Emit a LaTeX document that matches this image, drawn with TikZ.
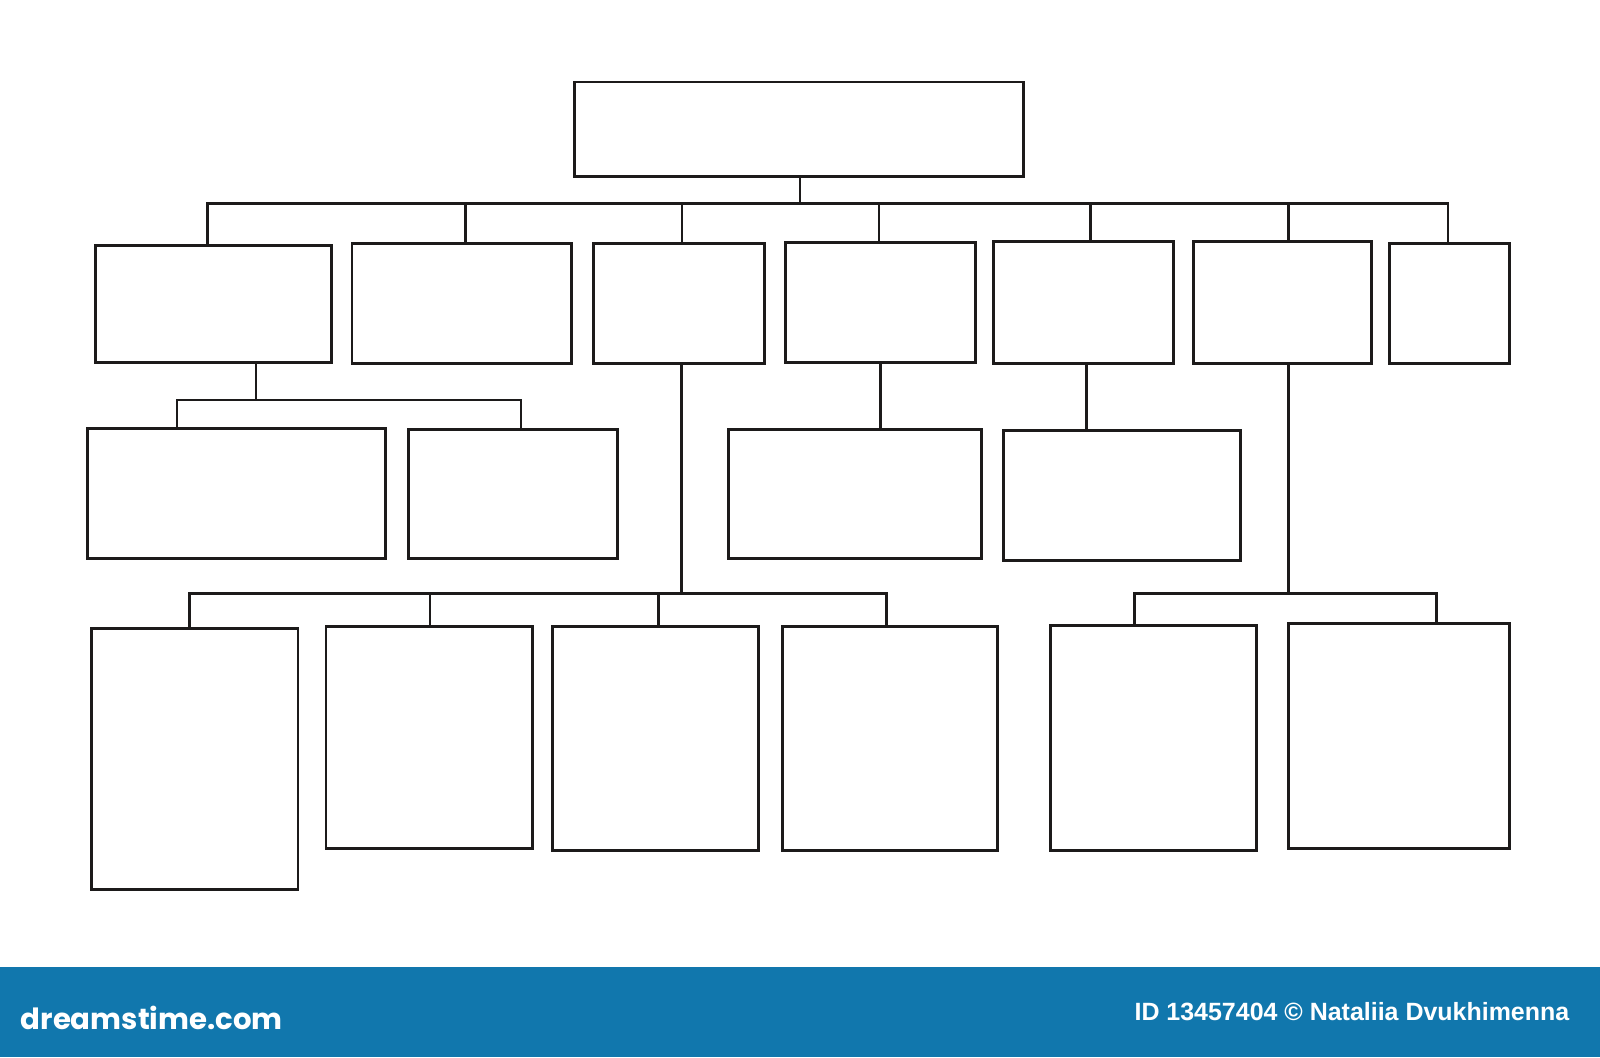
\documentclass[tikz,border=0pt]{standalone}
\usepackage{fontspec}
\usepackage{xcolor}
\usetikzlibrary{positioning}
\newfontfamily\logofont{Poppins}
\newfontfamily\creditfont{Liberation Sans}
\definecolor{footerblue}{RGB}{17,119,173}
\definecolor{inkline}{RGB}{28,26,26}

\begin{document}
\begin{tikzpicture}[y=-0.01cm,x=0.01cm,
	box/.style={draw=inkline, line width=0.85pt, inner sep=0pt, outer sep=0pt},
	link/.style={draw=inkline, line width=0.8pt}]
	\newcommand\OrgBox[5]{\node[box, minimum width={(#4-#2)*0.01cm}, minimum height={(#5-#3)*0.01cm}] (#1) at ({(#2+#4)/2},{(#3+#5)/2}) {};}

	\useasboundingbox (0,0) rectangle (1600,1057);

	% top
	\OrgBox{top}{574}{82}{1023.5}{176.7}

	% second row
	\OrgBox{b1}{95.9}{245.3}{331.6}{362}
	\OrgBox{b2}{352}{243.7}{571.4}{363.3}
	\OrgBox{b3}{593.4}{243}{764.3}{363.3}
	\OrgBox{b4}{785.7}{242}{975}{362.7}
	\OrgBox{b5}{993.9}{241.7}{1173}{363.3}
	\OrgBox{b6}{1193.4}{241.7}{1371.4}{363.3}
	\OrgBox{b7}{1389.3}{243.7}{1509.2}{363.3}

	% third row
	\OrgBox{c1}{87.2}{428}{385.2}{558.7}
	\OrgBox{c2}{408.2}{429.7}{617.3}{558.7}
	\OrgBox{c3}{728.6}{429.7}{981.6}{558.7}
	\OrgBox{c4}{1003}{430.7}{1240.8}{560}

	% bottom row
	\OrgBox{d1}{91.8}{628.3}{298}{889}
	\OrgBox{d2}{326}{626}{532}{848.3}
	\OrgBox{d3}{552}{626}{758}{850}
	\OrgBox{d4}{782}{626.7}{997}{850}
	\OrgBox{d5}{1050}{625.7}{1256}{850}
	\OrgBox{d6}{1288.3}{623.3}{1509}{848.3}

	% junctions
	\coordinate (t0) at (800,203.3);
	\coordinate (j1) at (207.7,203.3);
	\coordinate (j2) at (465.8,203.3);
	\coordinate (j3) at (682,203.3);
	\coordinate (j4) at (879,203.3);
	\coordinate (j5) at (1090.3,203.3);
	\coordinate (j6) at (1288.3,203.3);
	\coordinate (j7) at (1448,203.3);
	\coordinate (s1) at (256,400);
	\coordinate (k1) at (177,400);
	\coordinate (k2) at (521,400);
	\coordinate (s3) at (681.6,593.3);
	\coordinate (m1) at (189.8,593.3);
	\coordinate (m2) at (430,593.3);
	\coordinate (m3) at (658.7,593.3);
	\coordinate (m4) at (886.2,593.3);
	\coordinate (s4) at (880.6,400);
	\coordinate (s5) at (1086.7,400);
	\coordinate (s6) at (1288.3,593.3);
	\coordinate (r1) at (1134.2,593.3);
	\coordinate (r2) at (1436.7,593.3);

	% connectors
	\draw[link] (top.south -| t0) -- (t0);
	\draw[link] (j1 |- b1.north) -- (j1) -- (j7) -- (j7 |- b7.north);
	\foreach \j/\b in {j2/b2,j3/b3,j4/b4,j5/b5,j6/b6}
		\draw[link] (\j) -- (\j |- \b.north);

	\draw[link] (s1 |- b1.south) -- (s1);
	\draw[link] (k1 |- c1.north) -- (k1) -- (k2) -- (k2 |- c2.north);

	\draw[link] (s3 |- b3.south) -- (s3);
	\draw[link] (m1 |- d1.north) -- (m1) -- (m4) -- (m4 |- d4.north);
	\foreach \j/\b in {m2/d2,m3/d3}
		\draw[link] (\j) -- (\j |- \b.north);

	\draw[link] (s4 |- b4.south) -- (s4 |- c3.north);
	\draw[link] (s5 |- b5.south) -- (s5 |- c4.north);

	\draw[link] (s6 |- b6.south) -- (s6);
	\draw[link] (r1 |- d5.north) -- (r1) -- (r2) -- (r2 |- d6.north);

	% footer
	\fill[footerblue] (0,966.7) rectangle (1600,1057);
	\node[anchor=west, inner sep=0pt, text=white, font=\logofont\bfseries\fontsize{8.3}{10}\selectfont] (logo) at (20,1018) {dreamstime.com};
	\node[anchor=east, inner sep=0pt, text=white, font=\creditfont\bfseries\fontsize{7.1}{9}\selectfont] (credit) at (1570,1012) {ID 13457404 © Nataliia Dvukhimenna};
\end{tikzpicture}
\end{document}
